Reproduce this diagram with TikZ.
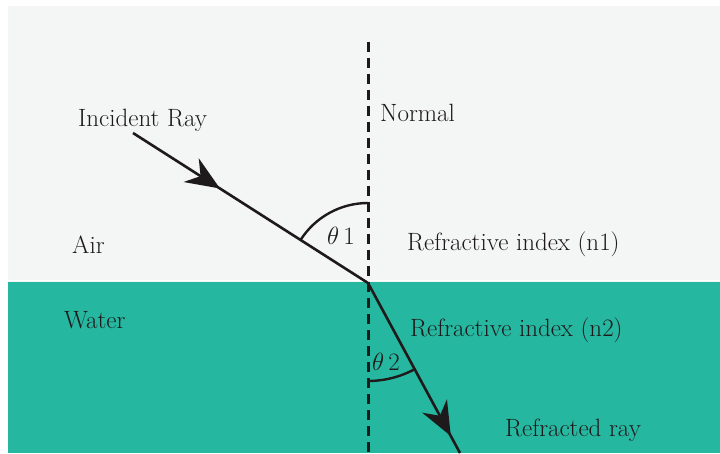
\documentclass[tikz,border=0pt]{standalone}
\usetikzlibrary{arrows.meta,decorations.markings}
\definecolor{airbg}{RGB}{244,245,245}
\definecolor{water}{RGB}{38,183,160}
\definecolor{ink}{RGB}{30,26,27}
\begin{document}
\begin{tikzpicture}[x=1pt,y=1pt,
  lbl/.style={anchor=base west,inner sep=0pt,text=ink,font=\fontsize{25}{30}\selectfont},
  ray/.style={line width=2.6pt,draw=ink},
  normalline/.style={line width=3pt,draw=ink,dash pattern=on 10pt off 6pt},
  anglearc/.style={line width=2.4pt,draw=ink},
  head/.style={decoration={markings,mark=at position #1 with {\arrow{Stealth[length=34pt,width=28pt,inset=11pt]}}},postaction={decorate}}
]
\useasboundingbox (0,0) rectangle (720,453);
\fill[white] (0,0) rectangle (720,453);
\fill[airbg] (8,171) rectangle (720,447);
\fill[water] (8,0) rectangle (720,171);
\draw[white,line width=1.5pt] (8,172.5) -- (720,172.5);
% points
\coordinate (O) at (368,170);
\coordinate (ntop) at (368,411);
\coordinate (nbot) at (368,0);
\coordinate (inc) at (133,320);
\coordinate (refr) at (460,0);
% normal
\draw[normalline] (ntop) -- (nbot);
% rays
\draw[ray,head=0.37] (inc) -- (O);
\draw[ray,head=0.9] (O) -- (refr);
% angle arcs
\draw[anglearc] ([shift={(90:80)}]O) arc[start angle=90,end angle=147.4,radius=80];
\draw[anglearc] ([shift={(270:98)}]O) arc[start angle=270,end angle=298.4,radius=98];
% labels
\node[lbl] (tinc) at (78,326) {Incident Ray};
\node[lbl] (tnorm) at (380,331) {Normal};
\node[lbl] (tair) at (72,199) {Air};
\node[lbl] (tth1) at (327,208) {$\theta$\,1};
\node[lbl] (tn1) at (407,202) {Refractive index (n1)};
\node[lbl] (twat) at (64,125) {Water};
\node[lbl] (tn2) at (410,117) {Refractive index (n2)};
\node[lbl] (tth2) at (372,83) {$\theta$\,2};
\node[lbl] (trefr) at (505,17) {Refracted ray};
\end{tikzpicture}
\end{document}
